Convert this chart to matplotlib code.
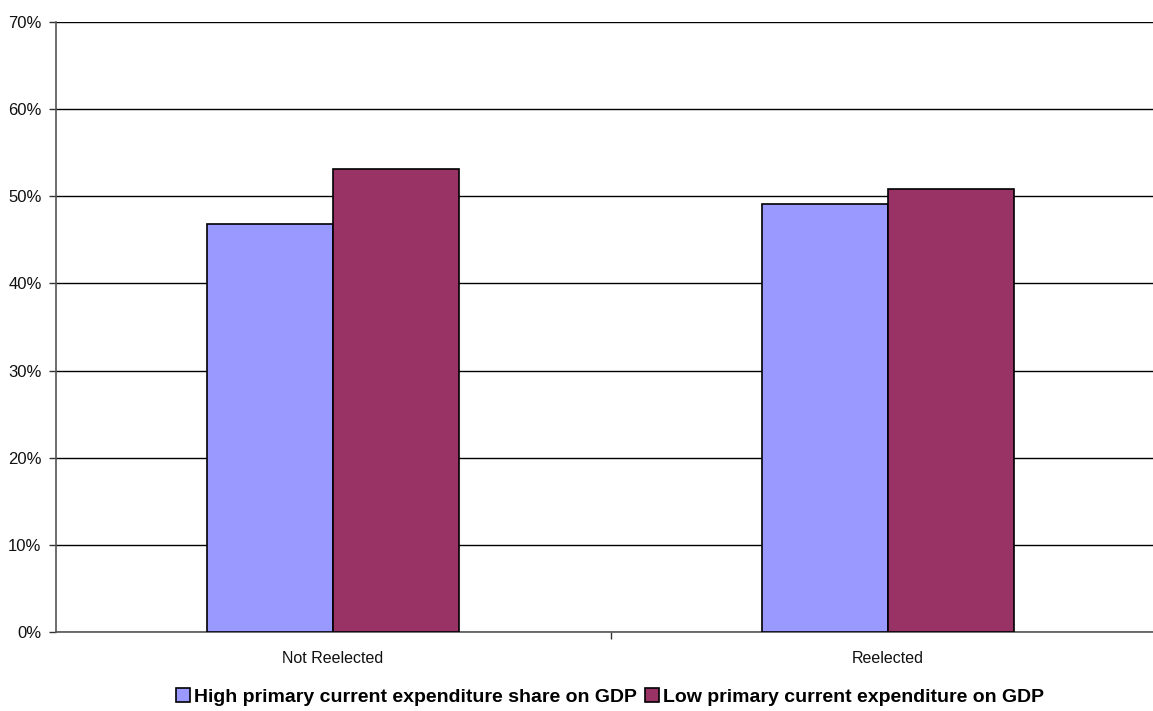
import matplotlib
matplotlib.use("Agg")
import matplotlib.pyplot as plt
import numpy as np
from matplotlib.ticker import FixedLocator

plt.rcParams['font.family'] = ['Liberation Sans', 'DejaVu Sans']

categories = ["Not Reelected", "Reelected"]
series_names = ["High primary current expenditure share on GDP",
                "Low primary current expenditure on GDP"]
high_values = [46.8, 49.1]
low_values = [53.2, 50.9]
y_ticks = [0, 10, 20, 30, 40, 50, 60, 70]
y_tick_labels = ["0%", "10%", "20%", "30%", "40%", "50%", "60%", "70%"]
colors = ["#9999FF", "#993366"]

W, H = 1153, 711
fig = plt.figure(figsize=(W / 100, H / 100), dpi=100)
left, right, top, bottom = 55.5, 1165.5, 22.3, 631.7
ax = fig.add_axes([left / W, 1 - bottom / H, (right - left) / W, (bottom - top) / H])

x = np.arange(len(categories))
bw = 0.227
ax.bar(x - bw / 2, high_values, bw, color=colors[0], edgecolor="black", linewidth=1.2,
       label=series_names[0], zorder=3)
ax.bar(x + bw / 2, low_values, bw, color=colors[1], edgecolor="black", linewidth=1.2,
       label=series_names[1], zorder=3)

ax.set_xlim(-0.5, 1.5)
ax.set_ylim(0, 70)
ax.set_yticks(y_ticks)
ax.set_yticklabels(y_tick_labels, fontsize=12, color="#111111")
ax.yaxis.grid(True, color="black", linewidth=1.0, zorder=0)
ax.set_axisbelow(True)

ax.xaxis.set_major_locator(FixedLocator([0.5]))
ax.set_xticklabels([""])
ax.xaxis.set_minor_locator(FixedLocator(list(x)))
ax.set_xticklabels(categories, minor=True, fontsize=11.5, color="#111111")
ax.tick_params(axis="x", which="minor", length=0, pad=14)
ax.tick_params(axis="x", which="major", length=5, width=1, color="#333333")
ax.tick_params(axis="y", length=5, width=1, color="#333333", pad=5)

for s in ["top", "right"]:
    ax.spines[s].set_visible(False)
ax.spines["left"].set_color("#555555")
ax.spines["bottom"].set_color("#555555")
ax.spines["left"].set_linewidth(1.2)
ax.spines["bottom"].set_linewidth(1.2)

leg = fig.legend(loc="center", bbox_to_anchor=(610 / W, 1 - 697 / H), ncol=2,
                 frameon=False, prop={"weight": "bold", "size": 14},
                 handlelength=0.7, handleheight=0.7, handletextpad=0.2,
                 columnspacing=0.45, borderaxespad=0)

fig.savefig("out.png", dpi=100)
